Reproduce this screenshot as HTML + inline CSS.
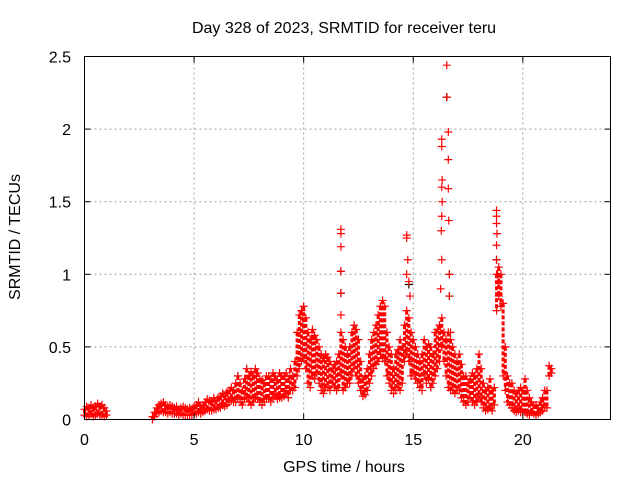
<!DOCTYPE html>
<html><head><meta charset="utf-8"><style>
html,body{margin:0;padding:0;background:#fff;}
svg{display:block;font-family:"Liberation Sans",sans-serif;}
</style></head><body>
<svg id="chart" width="640" height="480" viewBox="0 0 640 480" xmlns="http://www.w3.org/2000/svg">
<rect width="640" height="480" fill="#fff"/>
<g id="grid"></g>
<g id="black"></g>
<g id="red"></g>
<g id="axes"></g>
<text x="344" y="33" font-size="16" text-anchor="middle">Day 328 of 2023, SRMTID for receiver teru</text>
<text x="344" y="472" font-size="16" text-anchor="middle">GPS time / hours</text>
<text x="20" y="237" font-size="16" text-anchor="middle" transform="rotate(-90 20 237)">SRMTID / TECUs</text>
</svg>
<script>
const xTicks=[0,5,10,15,20];
const yTicks=[0,0.5,1,1.5,2,2.5];
const yTickLabels=["0","0.5","1","1.5","2","2.5"];
const times=[0,0.1,0.2,0.3,0.4,0.5,0.6,0.7,0.8,0.9,1.0,
3.1,3.2,3.3,3.4,3.5,3.6,3.7,3.8,3.9,4.0,4.1,4.2,4.3,4.4,4.5,4.6,4.7,4.8,4.9,5.0,
5.1,5.2,5.3,5.4,5.5,5.6,5.7,5.8,5.9,6.0,6.1,6.2,6.3,6.4,6.5,6.6,6.7,6.8,6.9,7.0,
7.1,7.2,7.3,7.4,7.5,7.6,7.7,7.8,7.9,8.0,8.1,8.2,8.3,8.4,8.5,8.6,8.7,8.8,8.9,9.0,
9.1,9.2,9.3,9.4,9.5,9.6,9.7,9.8,9.9,10.0,
10.1,10.2,10.3,10.4,10.5,10.6,10.7,10.8,10.9,11.0,
11.1,11.2,11.3,11.4,11.5,11.6,11.7,11.8,11.9,12.0,
12.1,12.2,12.3,12.4,12.5,12.6,12.7,12.8,12.9,13.0,
13.1,13.2,13.3,13.4,13.5,13.6,13.7,13.8,13.9,14.0,
14.1,14.2,14.3,14.4,14.5,14.6,14.7,14.8,14.9,15.0,
15.1,15.2,15.3,15.4,15.5,15.6,15.7,15.8,15.9,16.0,
16.1,16.2,16.3,16.4,16.5,16.6,16.7,16.8,16.9,17.0,
17.1,17.2,17.3,17.4,17.5,17.6,17.7,17.8,17.9,18.0,
18.1,18.2,18.3,18.4,18.5,18.6,18.7,18.8,18.9,19.0,
19.1,19.2,19.3,19.4,19.5,19.6,19.7,19.8,19.9,20.0,
20.1,20.2,20.3,20.4,20.5,20.6,20.7,20.8,20.9,21.0,
21.1,21.2,21.3];
const hiValues=[0.07,0.09,0.08,0.1,0.08,0.09,0.11,0.09,0.1,0.08,0.06,
0.02,0.05,0.08,0.1,0.11,0.12,0.1,0.09,0.1,0.09,0.08,0.09,0.07,0.08,0.09,0.08,0.07,0.08,0.07,0.09,
0.1,0.12,0.09,0.1,0.12,0.14,0.13,0.12,0.15,0.13,0.15,0.16,0.18,0.16,0.19,0.2,0.22,0.2,0.25,0.3,
0.25,0.2,0.28,0.35,0.3,0.33,0.3,0.35,0.32,0.28,0.27,0.25,0.3,0.3,0.28,0.32,0.3,0.27,0.32,0.3,
0.3,0.32,0.28,0.35,0.3,0.4,0.6,0.72,0.75,0.78,
0.7,0.6,0.55,0.62,0.58,0.55,0.5,0.45,0.42,0.45,
0.43,0.4,0.35,0.38,0.4,0.45,0.6,0.55,0.5,0.45,
0.5,0.6,0.65,0.62,0.55,0.4,0.28,0.3,0.35,0.45,
0.55,0.6,0.65,0.72,0.78,0.82,0.78,0.6,0.5,0.45,
0.35,0.45,0.48,0.55,0.5,0.65,0.75,0.7,0.6,0.55,
0.5,0.45,0.4,0.45,0.55,0.5,0.52,0.5,0.45,0.6,
0.62,0.65,0.7,0.6,0.55,0.6,0.55,0.5,0.45,0.4,
0.45,0.38,0.3,0.3,0.25,0.28,0.32,0.3,0.35,0.45,
0.35,0.25,0.2,0.22,0.28,0.2,0.22,1.0,1.05,1.0,
0.8,0.5,0.3,0.25,0.25,0.2,0.18,0.2,0.22,0.2,
0.28,0.2,0.15,0.12,0.1,0.1,0.08,0.12,0.15,0.2,
0.2,0.37,0.35];
const loValues=[0.03,0.02,0.03,0.04,0.02,0.03,0.04,0.03,0.03,0.02,0.03,
0,0.02,0.04,0.05,0.06,0.05,0.05,0.04,0.05,0.04,0.04,0.04,0.03,0.04,0.03,0.03,0.03,0.03,0.03,0.04,
0.04,0.05,0.04,0.05,0.06,0.07,0.06,0.06,0.07,0.07,0.08,0.08,0.1,0.09,0.1,0.12,0.13,0.12,0.12,0.14,
0.12,0.1,0.14,0.15,0.12,0.1,0.12,0.15,0.14,0.12,0.1,0.12,0.14,0.15,0.12,0.15,0.16,0.14,0.15,0.15,
0.16,0.18,0.15,0.2,0.2,0.22,0.3,0.35,0.4,0.42,
0.35,0.25,0.22,0.3,0.28,0.32,0.25,0.2,0.18,0.22,
0.22,0.2,0.25,0.22,0.2,0.22,0.3,0.2,0.22,0.25,
0.25,0.3,0.35,0.3,0.25,0.2,0.16,0.17,0.2,0.25,
0.3,0.35,0.38,0.4,0.45,0.42,0.4,0.3,0.25,0.2,
0.18,0.2,0.22,0.2,0.25,0.4,0.45,0.4,0.3,0.32,
0.28,0.25,0.22,0.2,0.3,0.25,0.28,0.22,0.25,0.3,
0.35,0.4,0.5,0.4,0.3,0.22,0.2,0.2,0.18,0.2,
0.2,0.15,0.12,0.1,0.12,0.15,0.12,0.1,0.12,0.15,
0.12,0.08,0.06,0.07,0.08,0.06,0.1,0.75,0.85,0.78,
0.3,0.2,0.12,0.1,0.08,0.06,0.05,0.06,0.05,0.05,
0.05,0.04,0.03,0.05,0.04,0.03,0.04,0.05,0.06,0.08,
0.08,0.3,0.32];
const spikeTimes=[11.7,11.7,11.7,11.7,11.7,11.7,14.7,14.7,14.75,14.8,14.85,14.7,16.3,16.3,16.32,16.3,16.32,16.3,16.28,16.3,16.25,16.53,16.53,16.6,16.6,16.6,16.62,16.65,16.65,16.7,18.8,18.8,18.8,18.82,18.8,18.8,18.85,18.9];
const spikeValues=[1.31,1.28,1.19,1.02,0.87,0.72,1.27,1.25,1.1,0.95,0.85,1.0,1.93,1.88,1.65,1.6,1.5,1.4,1.3,1.1,0.9,2.44,2.22,1.98,1.79,1.59,1.37,1.0,0.85,0.6,1.44,1.4,1.35,1.28,1.2,1.1,1.0,0.95];
const blackTimes=[7.0,11.7,11.7,14.8,16.53,16.65,16.65,18.8];
const blackValues=[0.3,1.02,0.87,0.93,2.22,1.0,0.85,1.1];

const X0=84.5,X1=610.5,Y0=419.5,Y1=56.5;
const xs=t=>X0+(t/24)*(X1-X0);
const ys=v=>Y0-(v/2.5)*(Y0-Y1);
const NS="http://www.w3.org/2000/svg";
function mk(tag,attrs,parent){const e=document.createElementNS(NS,tag);for(const k in attrs)e.setAttribute(k,attrs[k]);parent.appendChild(e);return e;}
const grid=document.getElementById('grid'),axes=document.getElementById('axes');
const red=document.getElementById('red'),black=document.getElementById('black');

xTicks.forEach(t=>{
  if(t>0){const l=mk('line',{x1:xs(t),x2:xs(t),y1:Y0,y2:Y1,stroke:'#a0a0a0','stroke-dasharray':'2,3','stroke-width':1},grid);
  
  }
  mk('line',{x1:xs(t),x2:xs(t),y1:Y0,y2:Y0-6,stroke:'#000'},axes);
  mk('line',{x1:xs(t),x2:xs(t),y1:Y1,y2:Y1+6,stroke:'#000'},axes);
  const tx=mk('text',{x:xs(t),y:445,'font-size':16,'text-anchor':'middle',fill:'#000'},axes);
  tx.textContent=String(t);
  
  
});
yTicks.forEach((v,i)=>{
  if(v>0&&v<2.5){const l=mk('line',{x1:X0,x2:X1,y1:ys(v),y2:ys(v),stroke:'#a0a0a0','stroke-dasharray':'2,3','stroke-width':1},grid);
  
  }
  mk('line',{x1:X0,x2:X0+6,y1:ys(v),y2:ys(v),stroke:'#000'},axes);
  mk('line',{x1:X1,x2:X1-6,y1:ys(v),y2:ys(v),stroke:'#000'},axes);
  const tx=mk('text',{x:71,y:ys(v)+6,'font-size':16,'text-anchor':'end',fill:'#000'},axes);
  tx.textContent=yTickLabels[i];
  
  
});
const frame=mk('rect',{x:X0,y:Y1,width:X1-X0,height:Y0-Y1,fill:'none',stroke:'#000','stroke-width':1},axes);



function plus(g,t,v,color){
  const x=xs(t),y=ys(v);
  const p=mk('path',{d:`M${x-4},${y}h8M${x},${y-4}v8`,stroke:color,'stroke-width':1.2,fill:'none'},g);
  
  
}
blackTimes.forEach((t,i)=>plus(black,t,blackValues[i],'#000'));
times.forEach((t,i)=>{
  const seg=mk('line',{x1:xs(t),x2:xs(t),y1:ys(hiValues[i]),y2:ys(loValues[i]),stroke:'#f00','stroke-width':3,'stroke-dasharray':'4,2'},red);
  
  
  plus(red,t,hiValues[i],'#f00');
  plus(red,t,loValues[i],'#f00');
});
spikeTimes.forEach((t,i)=>plus(red,t,spikeValues[i],'#f00'));
</script>
</body></html>
